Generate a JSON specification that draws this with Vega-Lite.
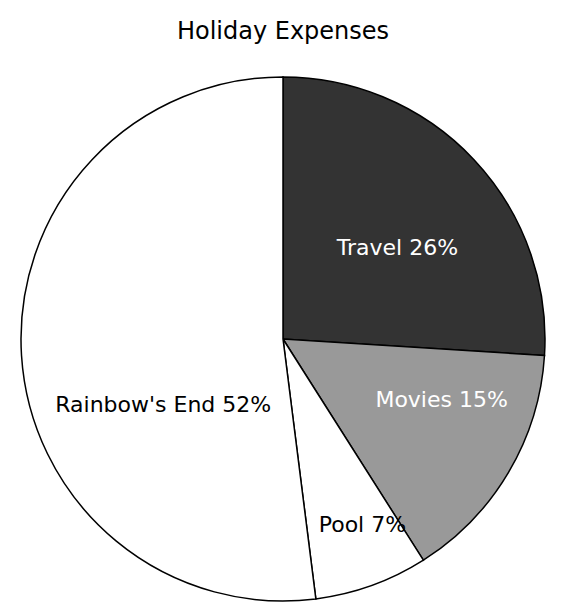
{
  "$schema": "https://vega.github.io/schema/vega-lite/v6.json",
  "autosize": {"type": "fit", "contains": "padding"},
  "width": 583,
  "height": 608,
  "padding": {"top": 20, "bottom": 0, "left": 0, "right": 17},
  "background": "white",
  "title": {"text": "Holiday Expenses", "font": "DejaVu Sans", "fontSize": 24, "fontWeight": "normal", "color": "black", "offset": 26},
  "data": {"values": [
    {"category": "Travel", "pct": 26, "rank": 1, "label": "Travel 26%"},
    {"category": "Movies", "pct": 15, "rank": 2, "label": "Movies 15%"},
    {"category": "Pool", "pct": 7, "rank": 3, "label": "Pool 7%"},
    {"category": "Rainbow's End", "pct": 52, "rank": 4, "label": "Rainbow's End 52%"}
  ]},
  "transform": [
    {"stack": "pct", "groupby": [], "sort": [{"field": "rank", "order": "ascending"}], "as": ["t0", "t1"]},
    {"calculate": "(datum.t0 + datum.t1) / 2", "as": "tmid"}
  ],
  "layer": [
    {
      "mark": {"type": "arc", "radius": 262, "stroke": "black", "strokeWidth": 1.5},
      "encoding": {
        "theta": {"field": "t0", "type": "quantitative", "scale": {"domain": [0, 100]}},
        "theta2": {"field": "t1"},
        "color": {"field": "category", "type": "nominal",
          "scale": {"domain": ["Travel", "Movies", "Pool", "Rainbow's End"], "range": ["#333333", "#999999", "#ffffff", "#ffffff"]},
          "legend": null}
      }
    },
    {
      "transform": [{"filter": "datum.category === 'Travel'"}],
      "mark": {"type": "text", "radius": 146, "dx": 8, "dy": 9, "font": "DejaVu Sans", "fontSize": 22, "color": "white"},
      "encoding": {"theta": {"field": "tmid", "type": "quantitative"}, "text": {"field": "label", "type": "nominal"}}
    },
    {
      "transform": [{"filter": "datum.category === 'Movies'"}],
      "mark": {"type": "text", "radius": 175, "dx": 8, "dy": -28, "font": "DejaVu Sans", "fontSize": 22, "color": "white"},
      "encoding": {"theta": {"field": "tmid", "type": "quantitative"}, "text": {"field": "label", "type": "nominal"}}
    },
    {
      "transform": [{"filter": "datum.category === 'Pool'"}],
      "mark": {"type": "text", "radius": 202, "dx": 11, "dy": -4, "font": "DejaVu Sans", "fontSize": 22, "color": "black"},
      "encoding": {"theta": {"field": "tmid", "type": "quantitative"}, "text": {"field": "label", "type": "nominal"}}
    },
    {
      "transform": [{"filter": "datum.category === \"Rainbow's End\""}],
      "mark": {"type": "text", "radius": 120, "dx": 0, "dy": 58, "font": "DejaVu Sans", "fontSize": 22, "color": "black"},
      "encoding": {"theta": {"field": "tmid", "type": "quantitative"}, "text": {"field": "label", "type": "nominal"}}
    }
  ],
  "view": {"stroke": null}
}
